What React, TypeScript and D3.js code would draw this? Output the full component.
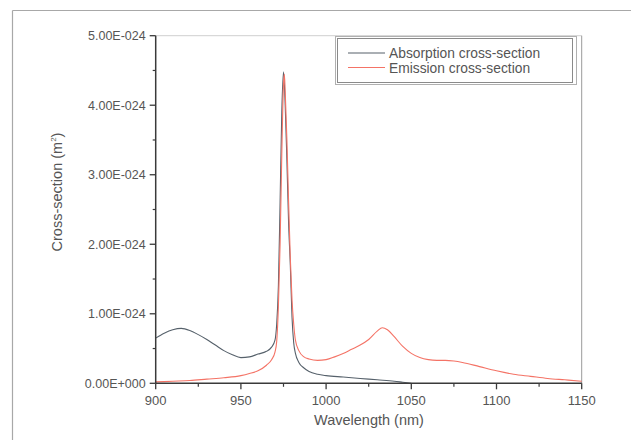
import React from "react";
import * as d3 from "d3";

const absorption: [number, number][] = [
  [900, 0.65], [905, 0.72], [910, 0.77], [915, 0.79], [920, 0.76], [925, 0.7], [930, 0.63],
  [935, 0.55], [940, 0.47], [945, 0.41], [950, 0.37], [955, 0.38], [960, 0.42], [965, 0.46],
  [968, 0.52], [970, 0.62], [971, 0.85], [972, 1.4], [973, 2.6], [974, 3.9], [975, 4.48],
  [976, 4.0], [977, 3.2], [978, 2.3], [979, 1.7], [980, 0.95], [981, 0.58], [982, 0.43],
  [984, 0.3], [987, 0.22], [990, 0.17], [995, 0.13], [1000, 0.11], [1010, 0.09], [1020, 0.07],
  [1030, 0.05], [1040, 0.03], [1045, 0.015], [1050, 0.0],
];

const emission: [number, number][] = [
  [900, 0.02], [910, 0.03], [920, 0.04], [930, 0.06], [940, 0.08], [950, 0.11], [955, 0.14],
  [960, 0.18], [965, 0.26], [968, 0.34], [970, 0.45], [971, 0.6], [972, 1.1], [973, 2.0],
  [974, 3.3], [975, 4.3], [975.5, 4.45], [976, 4.2], [977, 3.5], [978, 2.6], [979, 1.8],
  [980, 1.2], [981, 0.85], [982, 0.62], [984, 0.47], [987, 0.38], [990, 0.35], [995, 0.33],
  [1000, 0.34], [1005, 0.38], [1010, 0.43], [1015, 0.49], [1020, 0.55], [1025, 0.63],
  [1030, 0.75], [1033, 0.8], [1036, 0.77], [1040, 0.67], [1045, 0.53], [1050, 0.43],
  [1055, 0.37], [1060, 0.34], [1065, 0.33], [1070, 0.33], [1075, 0.32], [1080, 0.3],
  [1090, 0.24], [1100, 0.18], [1110, 0.13], [1120, 0.1], [1130, 0.07], [1140, 0.05], [1150, 0.03],
];

const xMajor = [900, 950, 1000, 1050, 1100, 1150];
const xMinor = [925, 975, 1025, 1075, 1125];
const yMajor = [0, 1, 2, 3, 4, 5];
const yMinor = [0.5, 1.5, 2.5, 3.5, 4.5];
const seriesNames = ["Absorption cross-section", "Emission cross-section"];

const L = 155.7, R = 581.7, T = 35.7, B = 383.3;
const FONT = "'Liberation Sans', Arial, sans-serif";
const AXIS = "#3a3a3a";
const TXT = "#555555";
const ABS_C = "#56616b";
const EMI_C = "#f47366";

const fmtY = (v: number) => (v === 0 ? "0.00E+000" : `${v.toFixed(2)}E-024`);

export default function App() {
  const x = d3.scaleLinear().domain([900, 1150]).range([L, R]);
  const y = d3.scaleLinear().domain([0, 5]).range([B, T]);
  const line = d3
    .line<[number, number]>()
    .x((d) => x(d[0]))
    .y((d) => y(d[1]))
    .curve(d3.curveMonotoneX);

  return (
    <svg
      width={631}
      height={440}
      style={{ position: "absolute", left: 0, top: 0, background: "#fff" }}
      fontFamily={FONT}
    >
      <rect x={0} y={0} width={631} height={440} fill="#fff" />
      {/* page frame */}
      <line x1={12.5} y1={10.5} x2={631} y2={10.5} stroke="#a8a8a8" strokeWidth={1.2} />
      <line x1={12.5} y1={10.5} x2={12.5} y2={440} stroke="#a8a8a8" strokeWidth={1.2} />

      {/* plot box top & right */}
      <line x1={L} y1={T} x2={R} y2={T} stroke="#cfcfcf" strokeWidth={1} />
      <line x1={R} y1={T} x2={R} y2={B} stroke="#9a9a9a" strokeWidth={1} />

      {/* data */}
      <path d={line(absorption) || ""} fill="none" stroke={ABS_C} strokeWidth={1.1} />
      <path d={line(emission) || ""} fill="none" stroke={EMI_C} strokeWidth={1.1} />

      {/* axes */}
      <line x1={L} y1={T} x2={L} y2={B} stroke={AXIS} strokeWidth={1.5} />
      <line x1={L} y1={B} x2={R} y2={B} stroke={AXIS} strokeWidth={1.5} />

      {yMajor.map((v) => (
        <g key={"ym" + v}>
          <line x1={L - 6} x2={L} y1={y(v)} y2={y(v)} stroke={AXIS} strokeWidth={1.3} />
          <text x={L - 10} y={y(v)} dy="0.35em" textAnchor="end" fontSize={12.5} fill={TXT}>
            {fmtY(v)}
          </text>
        </g>
      ))}
      {yMinor.map((v) => (
        <line key={"yn" + v} x1={L - 3} x2={L} y1={y(v)} y2={y(v)} stroke={AXIS} strokeWidth={1.2} />
      ))}
      {xMajor.map((v) => (
        <g key={"xm" + v}>
          <line x1={x(v)} x2={x(v)} y1={B} y2={B + 6} stroke={AXIS} strokeWidth={1.3} />
          <text x={x(v)} y={405} textAnchor="middle" fontSize={13} fill={TXT}>
            {v}
          </text>
        </g>
      ))}
      {xMinor.map((v) => (
        <line key={"xn" + v} x1={x(v)} x2={x(v)} y1={B} y2={B + 3.5} stroke={AXIS} strokeWidth={1.2} />
      ))}

      {/* axis titles */}
      <text x={369} y={425} textAnchor="middle" fontSize={14.5} fill={TXT}>
        Wavelength (nm)
      </text>
      <text
        transform={`translate(62,192) rotate(-90)`}
        textAnchor="middle"
        fontSize={14.5}
        fill={TXT}
      >
        Cross-section (m
        <tspan fontSize={8} dy={-6}>2</tspan>
        <tspan dy={6}>)</tspan>
      </text>

      {/* legend */}
      <rect x={335.5} y={36.5} width={241} height={48} fill="#fff" stroke="#b0b0b0" strokeWidth={1} />
      <rect x={337.5} y={38.5} width={235} height={44} fill="none" stroke="#8a8a8a" strokeWidth={1} />
      <line x1={348} x2={385} y1={53} y2={53} stroke={ABS_C} strokeWidth={1.1} />
      <line x1={348} x2={385} y1={67.5} y2={67.5} stroke={EMI_C} strokeWidth={1.1} />
      <text x={389} y={58} fontSize={13.8} fill={TXT}>{seriesNames[0]}</text>
      <text x={389} y={72.5} fontSize={13.8} fill={TXT}>{seriesNames[1]}</text>
    </svg>
  );
}
